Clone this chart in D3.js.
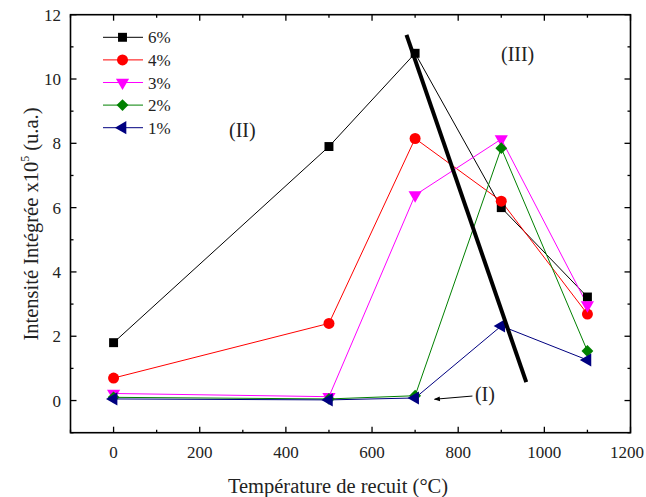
<!DOCTYPE html>
<html><head><meta charset="utf-8">
<script src="https://cdn.jsdelivr.net/npm/d3@7"></script>
<style>body{margin:0;background:#fff}svg{display:block}</style>
</head><body><svg id="c" width="646" height="497" font-family="'Liberation Serif', 'DejaVu Serif', 'Times New Roman', serif"></svg>
<script>
const temps = [0, 500, 700, 900, 1100];
const s6 = [1.8, 7.9, 10.8, 6.0, 3.22];
const s4 = [0.7, 2.4, 8.15, 6.2, 2.69];
const s3 = [0.22, 0.12, 6.39, 8.13, 2.97];
const s2 = [0.1, 0.05, 0.15, 7.85, 1.54];
const s1 = [0.05, 0.02, 0.08, 2.32, 1.26];
const seriesNames = ["6%", "4%", "3%", "2%", "1%"];
const seriesColors = ["#000000", "#ff0000", "#ff00ff", "#008000", "#000080"];
const xTickLabels = [0, 200, 400, 600, 800, 1000, 1200];
const yTickLabels = [0, 2, 4, 6, 8, 10, 12];
const boundaryLine = [[680, 11.37], [958, 0.57]];
const regionLabels = [{t: "(II)", x: 299, y: 8.4}, {t: "(III)", x: 938, y: 10.75}, {t: "(I)", x: 862, y: 0.18}];
const arrowI = [[833, 0.14], [745, 0.04]];

const series = [s6, s4, s3, s2, s1];
const symTypes = [d3.symbolSquare, d3.symbolCircle, d3.symbolTriangle, d3.symbolSquare, d3.symbolTriangle];
const symRot = [0, 0, 180, 45, -90];
const symSize = [80, 95, 75, 70, 75];
const FF = "'Liberation Serif', 'DejaVu Serif', serif";
const TC = "#222";

const svg = d3.select("#c");
const L = 70.5, R = 630.5, T = 14.7, B = 432.7;
const x = d3.scaleLinear().domain([-100, 1200]).range([L, R]);
const y = d3.scaleLinear().domain([-1, 12]).range([B, T]);

const g = svg.append("g");
const xMaj = d3.range(0, 1201, 200), xMin = d3.range(-100, 1201, 100).filter(v => v % 200 !== 0);
const yMaj = d3.range(0, 13, 2), yMin = d3.range(-1, 12, 1).filter(v => v % 2 !== 0);
function xt(vals, len) {
  vals.forEach(v => {
    g.append("line").attr("x1", x(v)).attr("x2", x(v)).attr("y1", B).attr("y2", B - len).attr("stroke", "#000").attr("stroke-width", 1.3);
    g.append("line").attr("x1", x(v)).attr("x2", x(v)).attr("y1", T).attr("y2", T + len).attr("stroke", "#000").attr("stroke-width", 1.3);
  });
}
function yt(vals, len) {
  vals.forEach(v => {
    g.append("line").attr("y1", y(v)).attr("y2", y(v)).attr("x1", L).attr("x2", L + len).attr("stroke", "#000").attr("stroke-width", 1.3);
    g.append("line").attr("y1", y(v)).attr("y2", y(v)).attr("x1", R).attr("x2", R - len).attr("stroke", "#000").attr("stroke-width", 1.3);
  });
}
xt(xMaj, 6); xt(xMin, 3); yt(yMaj, 6); yt(yMin, 3);
svg.append("rect").attr("x", L).attr("y", T).attr("width", R - L).attr("height", B - T).attr("fill", "none").attr("stroke", "#000").attr("stroke-width", 1.6);

function txt(xx, yy, s, size, anchor) {
  return svg.append("text").attr("x", xx).attr("y", yy).attr("text-anchor", anchor || "start")
    .attr("font-size", size).attr("font-family", FF).attr("fill", TC).text(s);
}
xTickLabels.forEach((v, i) => {
  const last = i === xTickLabels.length - 1;
  txt(last ? 644 : x(v), 458, v, 17, last ? "end" : "middle");
});
yTickLabels.forEach(v => txt(61, y(v) + 6, v, 17, "end"));

txt(338, 493, "Température de recuit (°C)", 20.5, "middle");
const yl = svg.append("text").attr("transform", "translate(38,224) rotate(-90)").attr("text-anchor", "middle")
  .attr("font-size", 20.5).attr("font-family", FF).attr("fill", TC);
yl.append("tspan").text("Intensité Intégrée x10");
yl.append("tspan").attr("font-size", 12).attr("dy", -9).text("5");
yl.append("tspan").attr("dy", 9).text(" (u.a.)");

const line = d3.line().x((d, i) => x(temps[i])).y(d => y(d));
series.forEach((s, k) => {
  svg.append("path").attr("d", line(s)).attr("fill", "none").attr("stroke", seriesColors[k]).attr("stroke-width", 1);
});
series.forEach((s, k) => {
  const sym = d3.symbol().type(symTypes[k]).size(symSize[k]);
  s.forEach((v, i) => {
    svg.append("path").attr("d", sym()).attr("transform", `translate(${x(temps[i])},${y(v)}) rotate(${symRot[k]})`).attr("fill", seriesColors[k]);
  });
});

svg.append("line").attr("x1", x(boundaryLine[0][0])).attr("y1", y(boundaryLine[0][1])).attr("x2", x(boundaryLine[1][0])).attr("y2", y(boundaryLine[1][1])).attr("stroke", "#000").attr("stroke-width", 4);

regionLabels.forEach(r => txt(x(r.x), y(r.y) + 6.5, r.t, 20, "middle"));

svg.append("defs").append("marker").attr("id", "ah").attr("viewBox", "0 0 10 10").attr("refX", 9).attr("refY", 5).attr("markerWidth", 8).attr("markerHeight", 6).attr("orient", "auto").attr("markerUnits", "userSpaceOnUse")
  .append("path").attr("d", "M0,1 L10,5 L0,9 Z").attr("fill", "#000");
svg.append("line").attr("x1", x(arrowI[0][0])).attr("y1", y(arrowI[0][1])).attr("x2", x(arrowI[1][0])).attr("y2", y(arrowI[1][1])).attr("stroke", "#000").attr("stroke-width", 1).attr("marker-end", "url(#ah)");

seriesNames.forEach((n, k) => {
  const ly = 37.3 + k * 22.6;
  svg.append("line").attr("x1", 103).attr("x2", 143).attr("y1", ly).attr("y2", ly).attr("stroke", seriesColors[k]).attr("stroke-width", 1);
  const sym = d3.symbol().type(symTypes[k]).size(symSize[k]);
  svg.append("path").attr("d", sym()).attr("transform", `translate(122.5,${ly}) rotate(${symRot[k]})`).attr("fill", seriesColors[k]);
  txt(148, ly + 6, n, 17);
});
</script></body></html>
